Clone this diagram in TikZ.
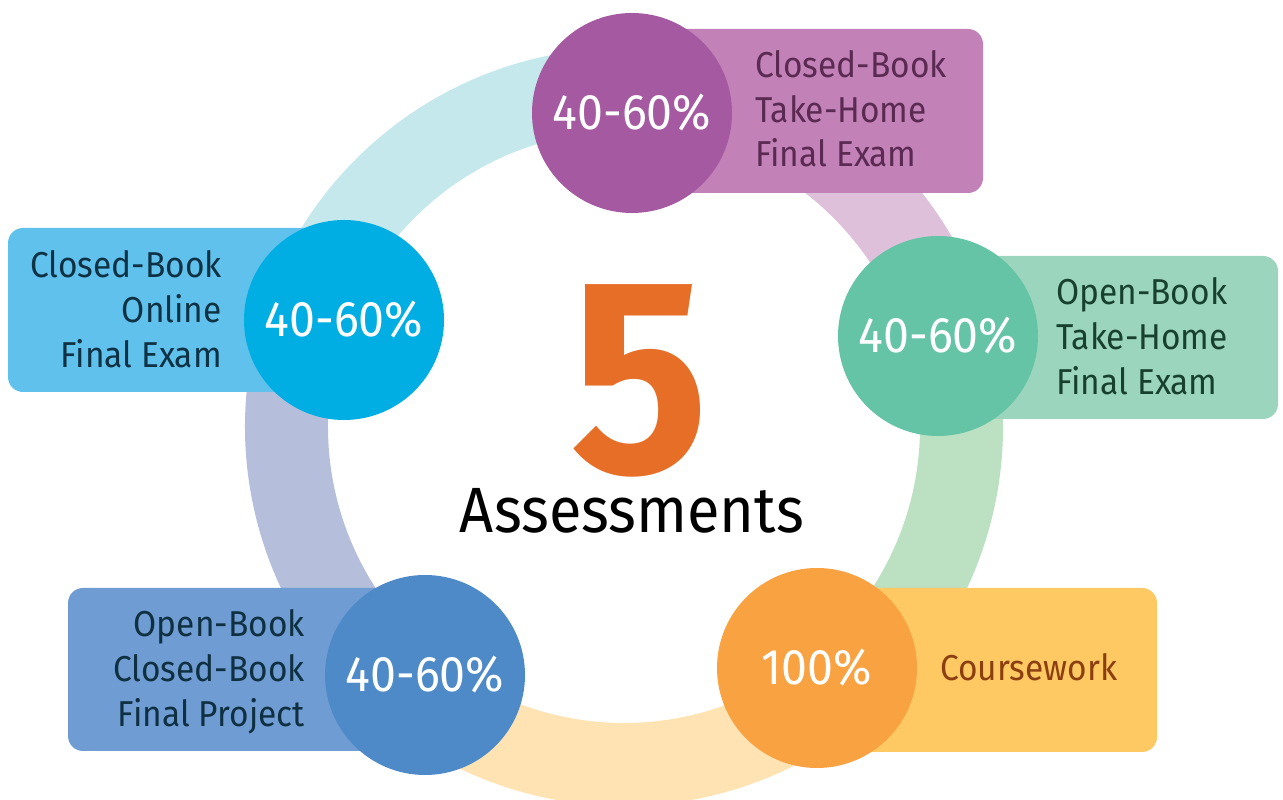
\documentclass[tikz,border=0pt]{standalone}
\usepackage{fontspec}
\setmainfont{Fira Sans}[FakeStretch=0.93]
\definecolor{ringA}{HTML}{C5E8EC}
\definecolor{ringB}{HTML}{DFC0DA}
\definecolor{ringC}{HTML}{BBE0C2}
\definecolor{ringD}{HTML}{FFE3B3}
\definecolor{ringE}{HTML}{B5BFDC}
\definecolor{circA}{HTML}{A459A1}
\definecolor{boxA}{HTML}{C281B7}
\definecolor{txtA}{HTML}{5A2A52}
\definecolor{circB}{HTML}{00AEE3}
\definecolor{boxB}{HTML}{60C1EC}
\definecolor{txtB}{HTML}{0E3143}
\definecolor{circC}{HTML}{66C4A6}
\definecolor{boxC}{HTML}{9CD5BE}
\definecolor{txtC}{HTML}{17402F}
\definecolor{circD}{HTML}{4F8AC8}
\definecolor{boxD}{HTML}{6F9DD3}
\definecolor{txtD}{HTML}{0F3041}
\definecolor{circE}{HTML}{F9A242}
\definecolor{boxE}{HTML}{FEC863}
\definecolor{txtE}{HTML}{8B3F10}
\definecolor{five}{HTML}{E66E27}
\begin{document}
\begin{tikzpicture}[x=1pt,y=1pt,
  ringseg/.style={line width=83pt},
  bubble/.style={circle,minimum size=200pt,inner sep=0pt,text=white,font=\fontsize{50}{50}\selectfont},
  panel/.style={rounded corners=15pt},
  label/.style={inner sep=0pt,font=\fontsize{36}{45}\selectfont}]
\useasboundingbox (0,0) rectangle (1283,800);
\coordinate (C) at (624,373);
% ring segments
\draw[ringseg,ringA] ([shift={(88.5:337.5pt)}]C) arc[start angle=88.5,end angle=159,radius=337.5pt];
\draw[ringseg,ringB] ([shift={(16:337.5pt)}]C) arc[start angle=16,end angle=88.5,radius=337.5pt];
\draw[ringseg,ringC] ([shift={(-51.3:337.5pt)}]C) arc[start angle=-51.3,end angle=16,radius=337.5pt];
\draw[ringseg,ringD] ([shift={(-128.7:337.5pt)}]C) arc[start angle=-128.7,end angle=-51.3,radius=337.5pt];
\draw[ringseg,ringE] ([shift={(159:337.5pt)}]C) arc[start angle=159,end angle=231.3,radius=337.5pt];
% panels
\fill[panel,boxA] (632,607) rectangle (983,771);
\fill[panel,boxB] (8,408) rectangle (344,572);
\fill[panel,boxC] (938,381) rectangle (1278,544);
\fill[panel,boxD] (68,49) rectangle (425,212);
\fill[panel,boxE] (817,48) rectangle (1157,212);
% bubbles
\node[bubble,fill=circA] (c1) at (632,687) {40-60\%};
\node[bubble,fill=circB] (c2) at (344,480) {40-60\%};
\node[bubble,fill=circC] (c3) at (938,464) {40-60\%};
\node[bubble,fill=circD] (c4) at (425,125) {40-60\%};
\node[bubble,fill=circE] (c5) at (817,132) {100\%};
% panel texts
\node[label,text=txtA,anchor=base west] (a1) at (755,722) {Closed-Book};
\node[label,text=txtA,anchor=base west] (a2) at (755,677) {Take-Home};
\node[label,text=txtA,anchor=base west] (a3) at (755,633) {Final Exam};
\node[label,text=txtB,anchor=base east] (b1) at (222,522) {Closed-Book};
\node[label,text=txtB,anchor=base east] (b2) at (222,477) {Online};
\node[label,text=txtB,anchor=base east] (b3) at (222,432) {Final Exam};
\node[label,text=txtC,anchor=base west] (d1) at (1056,495) {Open-Book};
\node[label,text=txtC,anchor=base west] (d2) at (1056,450) {Take-Home};
\node[label,text=txtC,anchor=base west] (d3) at (1056,405) {Final Exam};
\node[label,text=txtD,anchor=base east] (e1) at (305,163) {Open-Book};
\node[label,text=txtD,anchor=base east] (e2) at (305,118) {Closed-Book};
\node[label,text=txtD,anchor=base east] (e3) at (305,73) {Final Project};
\node[label,text=txtE,anchor=base west] (f1) at (940,119) {Coursework};
% centre
\node[inner sep=0pt,text=five,font=\fontsize{278}{278}\bfseries\selectfont] (n5) at (639.5,419) {5};
\node[inner sep=0pt,anchor=base,font=\fontsize{64}{64}\selectfont] (ttl) at (632,267) {Assessments};
\end{tikzpicture}
\end{document}
